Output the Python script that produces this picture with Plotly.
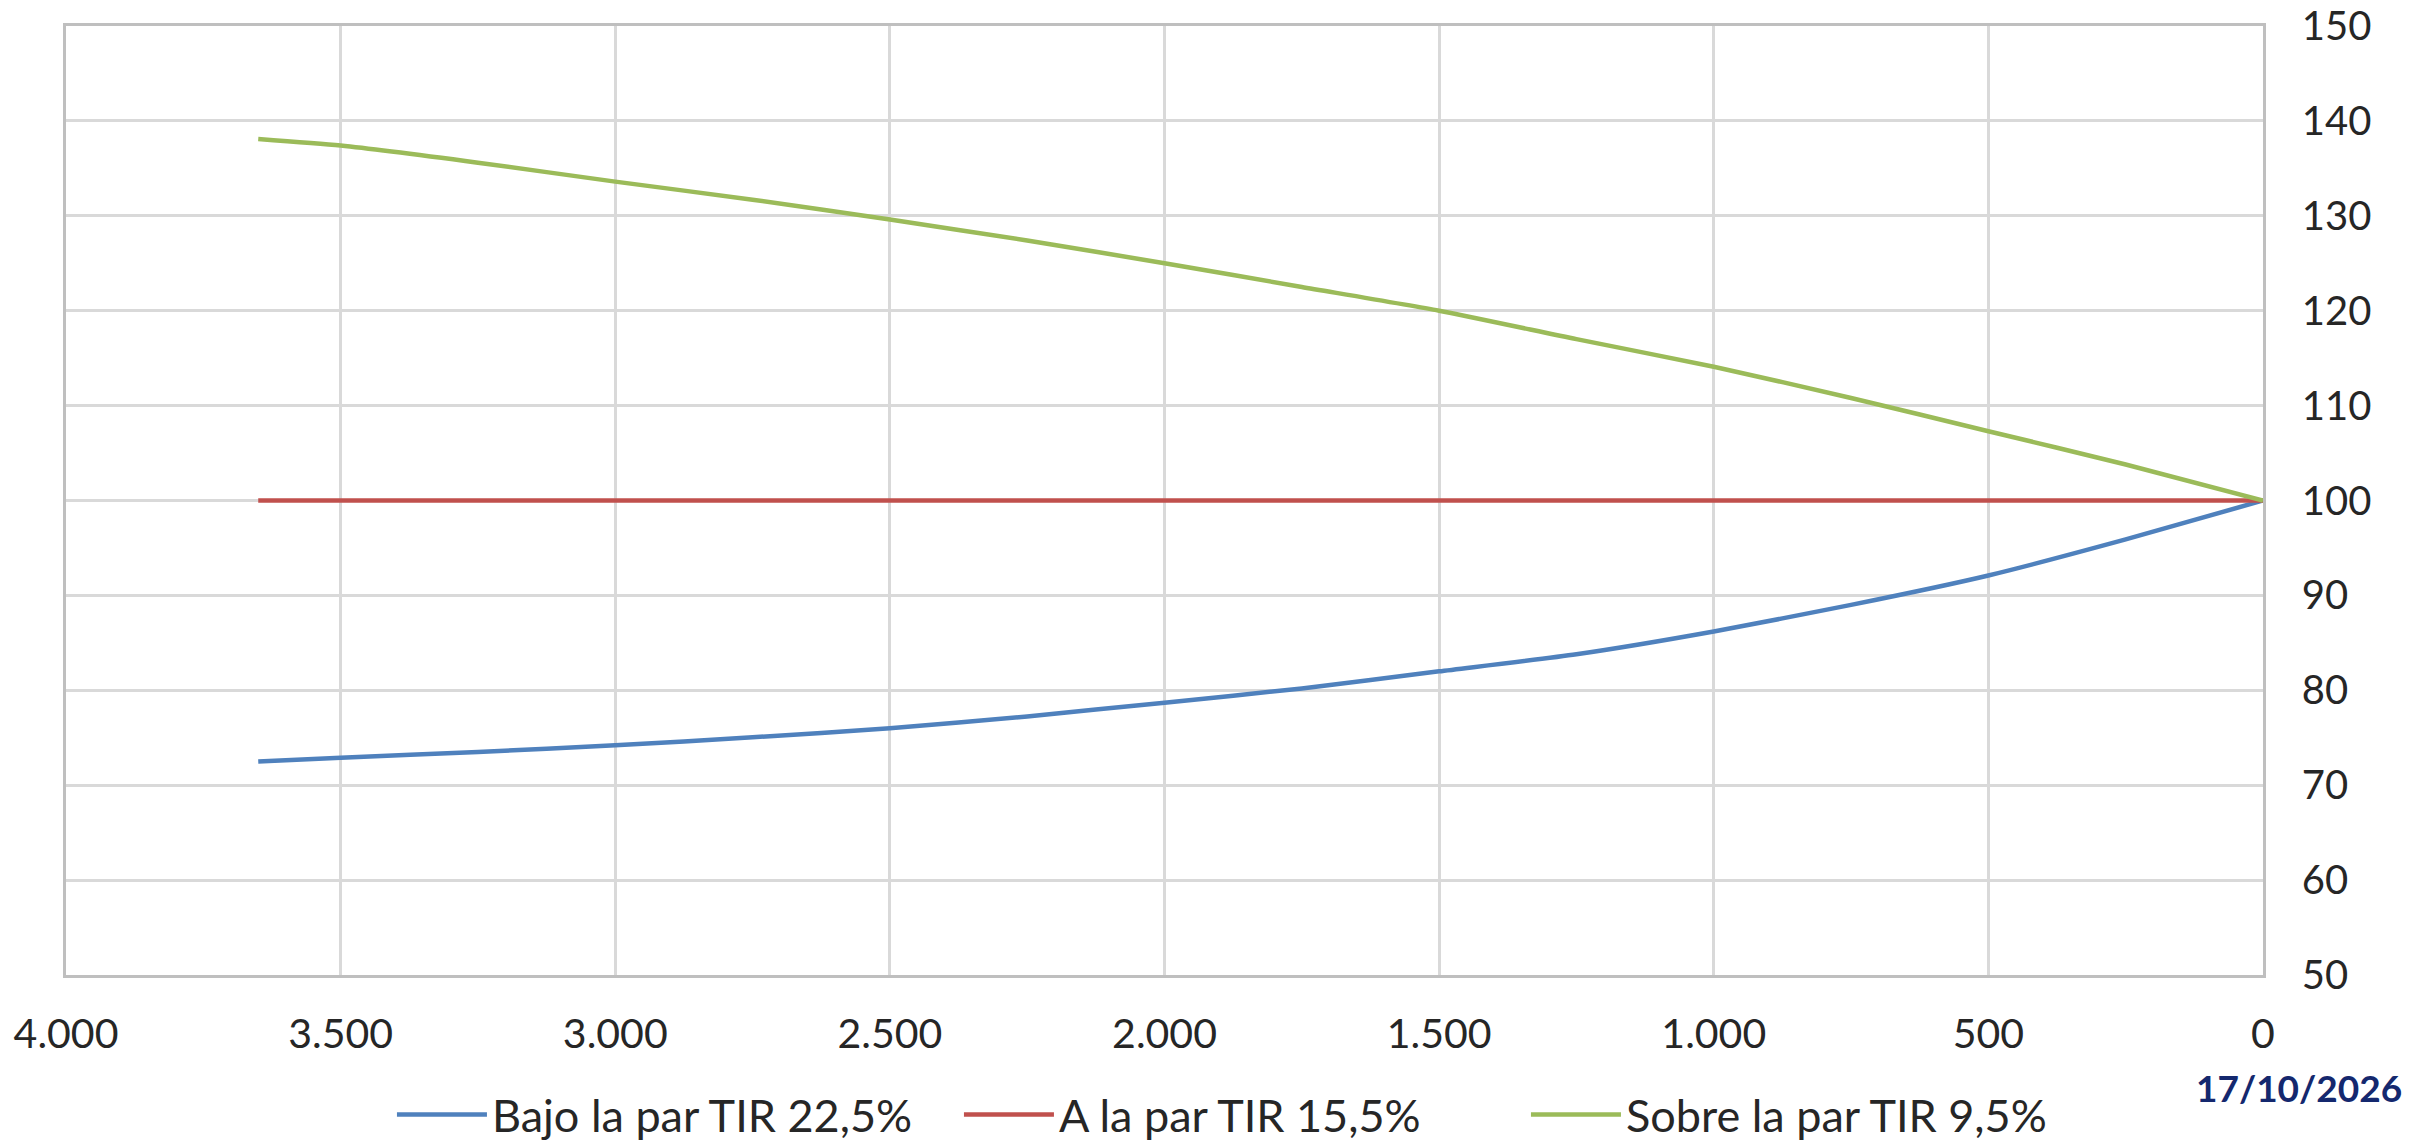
import plotly.graph_objects as go

# Days to maturity (x) and prices (y)
dias = [3650, 3500, 3250, 3000, 2750, 2500, 2250, 2000, 1750, 1500, 1250, 1000, 750, 500, 250, 0]
bajo_par = [72.5, 72.9, 73.5, 74.2, 75.05, 76.0, 77.25, 78.7, 80.2, 82.0, 83.8, 86.2, 89.0, 92.1, 95.9, 100.0]
a_la_par = [100.0] * len(dias)
sobre_par = [138.1, 137.4, 135.6, 133.6, 131.7, 129.6, 127.4, 125.0, 122.5, 120.0, 117.0, 114.1, 110.8, 107.3, 103.8, 100.0]

nombres = ["Bajo la par TIR 22,5%", "A la par TIR 15,5%", "Sobre la par TIR 9,5%"]
colores = ["#4F81BD", "#C0504D", "#9BBB59"]
x_ticks = [4000, 3500, 3000, 2500, 2000, 1500, 1000, 500, 0]
y_ticks = [50, 60, 70, 80, 90, 100, 110, 120, 130, 140, 150]
fecha = "17/10/2026"

FONT = "Lato, 'Open Sans', sans-serif"

fig = go.Figure()
for serie, nombre, color in zip([bajo_par, a_la_par, sobre_par], nombres, colores):
    fig.add_trace(go.Scatter(
        x=dias, y=serie, name=nombre, mode="lines",
        line=dict(color=color, width=4.5, shape="spline", smoothing=0.6),
    ))

grid = "#D9D9D9"
fig.update_layout(
    width=2412, height=1141,
    margin=dict(l=66, r=149, t=26, b=166),
    paper_bgcolor="white", plot_bgcolor="white",
    separators=",.",
    font=dict(family=FONT, size=40, color="#262626"),
    showlegend=True,
    legend=dict(
        orientation="h", xref="container", yref="container",
        x=0.1625, xanchor="left", y=0.023, yanchor="middle",
        font=dict(family=FONT, size=45, color="#262626"),
        itemwidth=90, tracegroupgap=0,
        entrywidth=462, entrywidthmode="pixels",
    ),
    xaxis=dict(
        range=[4000, 0], tickmode="array", tickvals=x_ticks, tickformat=",d",
        showgrid=True, gridcolor=grid, gridwidth=2.5, automargin=False,
        zeroline=False, showline=True, linecolor="#BFBFBF", linewidth=2.5, mirror=True,
        ticks="outside", ticklen=21, tickcolor="rgba(0,0,0,0)",
        tickfont=dict(family=FONT, size=41, color="#262626"),
        ticklabeloverflow="allow",
    ),
    yaxis=dict(
        range=[50, 150], side="right", tickmode="array", tickvals=y_ticks,
        showgrid=True, gridcolor=grid, gridwidth=2.5, automargin=False,
        zeroline=False, showline=True, linecolor="#BFBFBF", linewidth=2.5, mirror=True,
        ticks="outside", ticklen=28, tickcolor="rgba(0,0,0,0)",
        tickfont=dict(family=FONT, size=40, color="#262626"),
        ticklabeloverflow="allow",
    ),
    annotations=[dict(
        text="<b>" + fecha + "</b>", xref="paper", yref="paper",
        x=1.0642, y=-0.1187, xanchor="right", yanchor="middle", showarrow=False,
        font=dict(family=FONT, size=37, color="#14286E"),
    )],
)

fig.write_html("out.html", config={"displayModeBar": False},
               post_script="document.body.style.margin='0';")
